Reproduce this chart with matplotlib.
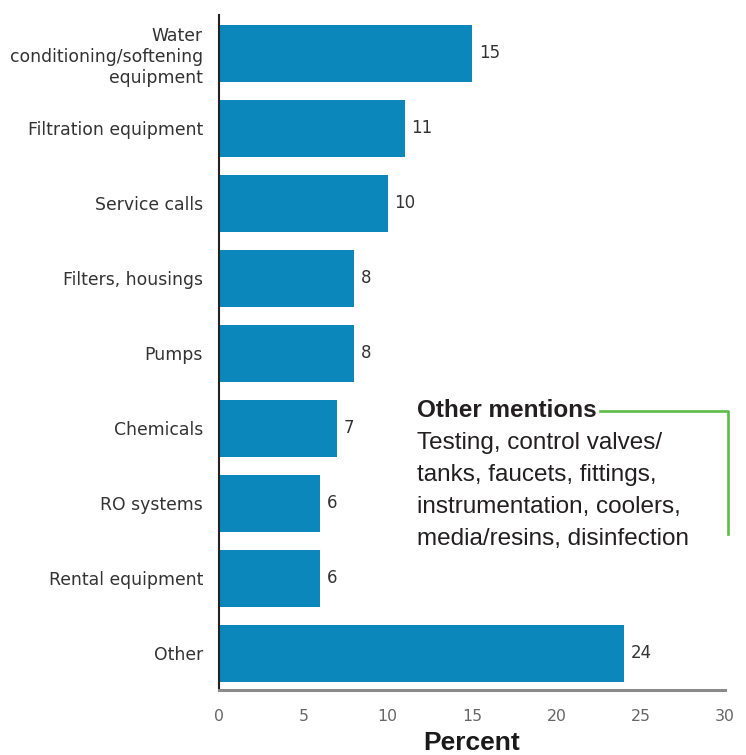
import matplotlib.pyplot as plt
from matplotlib.lines import Line2D

# dados
categories = [
    "Water\nconditioning/softening\nequipment",
    "Filtration equipment",
    "Service calls",
    "Filters, housings",
    "Pumps",
    "Chemicals",
    "RO systems",
    "Rental equipment",
    "Other",
]
values = [15, 11, 10, 8, 8, 7, 6, 6, 24]
xticks = [0, 5, 10, 15, 20, 25, 30]
note_title = "Other mentions"
note_lines = [
    "Testing, control valves/",
    "tanks, faucets, fittings,",
    "instrumentation, coolers,",
    "media/resins, disinfection",
]

W, H = 746, 755
bar_color = "#0b87bb"
green = "#5dbb46"


def px(x, y):
    # pixel (a partir do topo) -> fracao da figura
    return x / W, 1 - y / H


fig = plt.figure(figsize=(W / 100, H / 100), dpi=100)
ax = fig.add_axes([219 / W, 1 - 690 / H, (725 - 219) / W, (690 - 15) / H])

pos = list(range(len(categories)))
ax.barh(pos, values, height=0.76, color=bar_color)

for p, v in zip(pos, values):
    ax.annotate(str(v), (v, p), xytext=(5, 0), textcoords="offset points",
                va="center", ha="left", fontsize=12, color="#333333",
                family="DejaVu Sans")

ax.set_xlim(0, 30)
ax.set_ylim(len(categories) - 1 + 0.487, -0.513)
ax.set_yticks(pos)
ax.set_yticklabels(categories, fontsize=12.4, color="#333333",
                   family="DejaVu Sans")
ax.set_xticks(xticks)
ax.set_xticklabels([str(t) for t in xticks], fontsize=11.3, color="#666666",
                   family="DejaVu Sans")
ax.tick_params(axis="y", length=0, pad=11.5)
ax.tick_params(axis="x", length=0, pad=14)

for s in ["top", "right"]:
    ax.spines[s].set_visible(False)
ax.spines["left"].set_color("#222222")
ax.spines["left"].set_linewidth(1.5)
ax.spines["bottom"].set_color("#8a8a8a")
ax.spines["bottom"].set_linewidth(2.2)

# rotulo do eixo
x0, y0 = px(472, 750)
fig.text(x0, y0, "Percent", ha="center", va="baseline", fontsize=19,
         fontweight="bold", family="Liberation Sans", color="#1a1a1a")

# nota "Other mentions"
x0, y0 = px(417, 417)
fig.text(x0, y0, note_title, ha="left", va="baseline", fontsize=17.5,
         fontweight="bold", family="Liberation Sans", color="#231f20")
for i, line in enumerate(note_lines):
    x0, y0 = px(417, 449 + i * 32)
    fig.text(x0, y0, line, ha="left", va="baseline", fontsize=17.5,
             family="Liberation Sans", color="#231f20")

xa, ya = px(600, 411)
xb, yb = px(728, 411)
xc, yc = px(728, 534)
fig.add_artist(Line2D([xa, xb, xc], [ya, yb, yc], color=green, lw=1.9,
                      transform=fig.transFigure))

fig.savefig("out.png", dpi=100, facecolor="white")
